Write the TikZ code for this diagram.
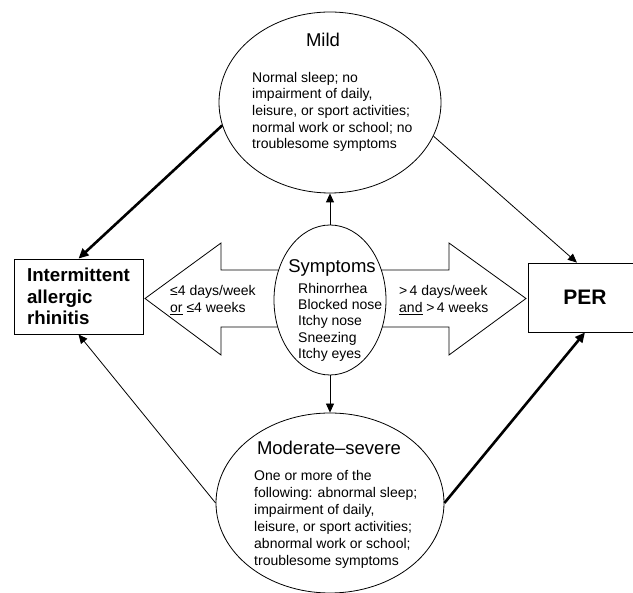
\documentclass[tikz,border=0pt]{standalone}
\usepackage{fontspec}
\setmainfont{Liberation Sans}
\usetikzlibrary{arrows.meta,shapes.geometric,positioning}
\tikzset{
  ovalbox/.style={draw,ellipse,line width=0.8pt,fill=white,inner sep=0pt},
  rectbox/.style={draw,line width=0.8pt,inner sep=0pt},
  thinarrow/.style={line width=0.8pt,-{Triangle[length=9pt,width=8pt]}},
  thickarrow/.style={line width=2.6pt,-{Triangle[length=10pt,width=9pt]}},
  blockline/.style={draw,line width=0.8pt,fill=white,line join=miter},
  titlefont/.style={font=\fontsize{18.5}{22}\selectfont,inner sep=0pt,anchor=base},
  bodyfont/.style={font=\fontsize{14}{16.6}\selectfont,align=left,inner sep=0pt,anchor=north west},
}
\begin{document}
\begin{tikzpicture}[x=1pt,y=-1pt]
        \useasboundingbox (0,0) rectangle (633,593);
        \draw[blockline] (290,270) -- (221,270) -- (221,243) -- (145,298.5) -- (221,355) -- (221,327) -- (290,327) -- cycle;
        \draw[blockline] (375,270) -- (449,270) -- (449,243) -- (526,298.5) -- (449,355) -- (449,327) -- (375,327) -- cycle;
        \node[ovalbox,minimum width=222,minimum height=181] (mild) at (330,102.5) {};
        \node[ovalbox,minimum width=112,minimum height=150] (symp) at (330,300) {};
        \node[ovalbox,minimum width=228,minimum height=180] (mod) at (330,503) {};
        \node[rectbox,minimum width=129,minimum height=75,align=left,
              font=\bfseries\fontsize{18.7}{21.5}\selectfont] (inter) at (78.5,296.5) {Intermittent\\allergic\\rhinitis};
        \node[rectbox,minimum width=114,minimum height=69,
              font=\bfseries\fontsize{21}{25}\selectfont] (per) at (585,297.5) {PER};
        \node[titlefont] (mildtitle) at (323,46.5) {Mild};
        \node[bodyfont] (mildtext) at (252,72) {Normal sleep; no\\impairment of daily,\\leisure, or sport activities;\\normal work or school; no\\troublesome symptoms};
        \node[titlefont] (symptitle) at (332,273) {Symptoms};
        \node[bodyfont,font=\fontsize{14}{16.25}\selectfont] (symptext) at (298,283) {Rhinorrhea\\Blocked nose\\Itchy nose\\Sneezing\\Itchy eyes};
        \node[titlefont] (modtitle) at (329,455) {Moderate–severe};
        \node[bodyfont,font=\fontsize{14}{17}\selectfont] (modtext) at (254,470) {One or more of the\\following: abnormal sleep;\\impairment of daily,\\leisure, or sport activities;\\abnormal work or school;\\troublesome symptoms};
        \node[bodyfont,font=\fontsize{14}{17}\selectfont] (lefttext) at (170,285) {≤4 days/week\\\underline{or} ≤4 weeks};
        \node[bodyfont,font=\fontsize{14}{17}\selectfont] (righttext) at (399,285) {>\,4 days/week\\\underline{and} >\,4 weeks};
        \draw[thickarrow] (mild.192) -- (inter.north);
        \draw[thinarrow] (mild.-18) -- (per.103);
        \draw[thinarrow] (symp.north) -- (mild.south);
        \draw[thinarrow] (symp.south) -- (mod.north);
        \draw[thinarrow] (mod.west) -- (inter.south);
        \draw[thickarrow] (mod.east) -- (per.south);
      \end{tikzpicture}
\end{document}
